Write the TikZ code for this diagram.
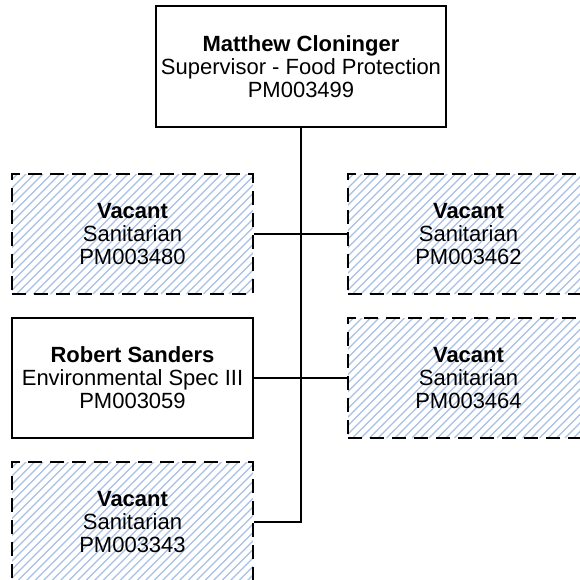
\documentclass[tikz,border=0pt]{standalone}
\usepackage{fontspec}
\setmainfont{Liberation Sans}
\definecolor{hatchblue}{RGB}{168,192,230}
\tikzset{
  box/.style={draw=black, line width=2.2pt, fill=white, minimum width=241pt, minimum height=120pt,
    inner sep=0pt, align=center, font=\fontsize{22}{23}\selectfont},
  vacant/.style={box, dash pattern=on 14pt off 8pt,
    path picture={\foreach \k in {0,...,44}{
      \draw[hatchblue, line width=1.1pt, solid]
        ([xshift=\k*8.5pt-140pt]path picture bounding box.south west) -- ++(220pt,220pt);}}},
  conn/.style={draw=black, line width=2.2pt}
}
\begin{document}
\begin{tikzpicture}[x=1pt,y=-1pt]
\useasboundingbox (0,0) rectangle (579,580);
\node[box, minimum width=290pt, minimum height=121pt] (boss) at (301,66.5) {\textbf{Matthew Cloninger}\\Supervisor - Food Protection\\PM003499};
\node[vacant] (v1) at (132.5,234) {\textbf{Vacant}\\Sanitarian\\PM003480};
\node[vacant] (v2) at (468.5,234) {\textbf{Vacant}\\Sanitarian\\PM003462};
\node[box] (rs) at (132.5,378) {\textbf{Robert Sanders}\\Environmental Spec III\\PM003059};
\node[vacant] (v4) at (468.5,378) {\textbf{Vacant}\\Sanitarian\\PM003464};
\node[vacant] (v3) at (132.5,522) {\textbf{Vacant}\\Sanitarian\\PM003343};
\draw[conn] (boss.south) -- (boss.south |- v3.east) -- (v3.east);
\draw[conn] (v1.east) -- (v2.west);
\draw[conn] (rs.east) -- (v4.west);
\end{tikzpicture}
\end{document}
